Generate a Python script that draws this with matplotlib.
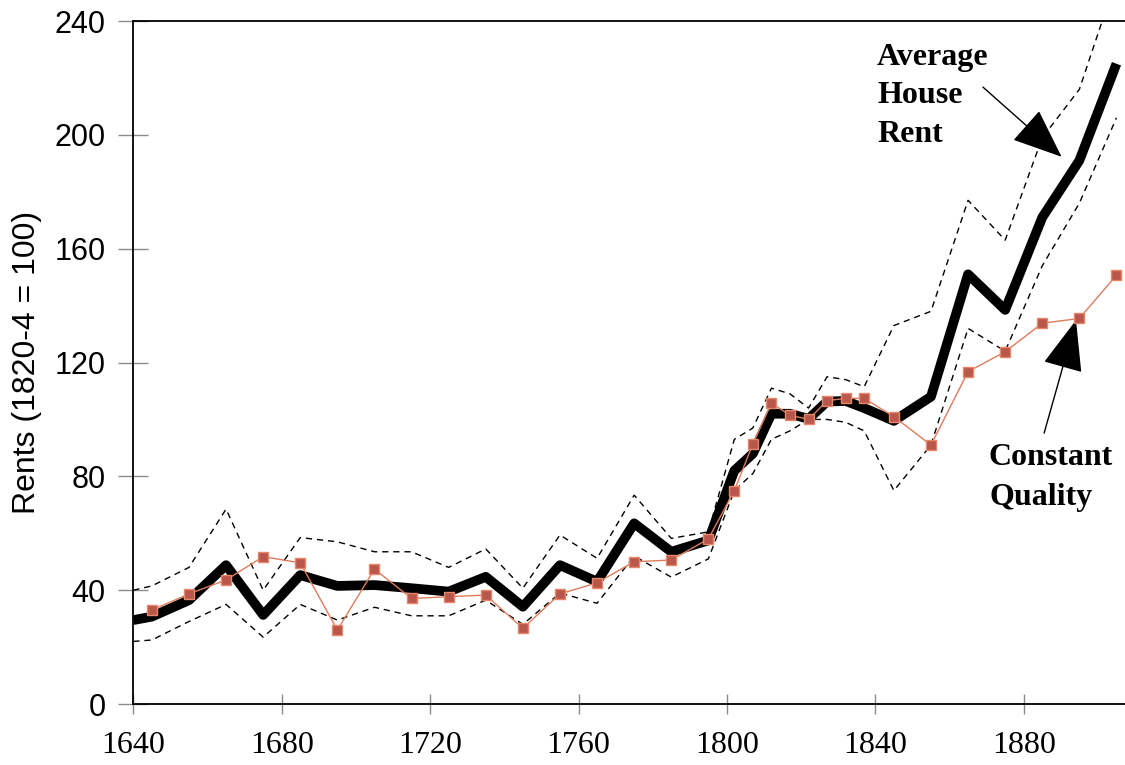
import matplotlib
matplotlib.use("Agg")
import matplotlib.pyplot as plt

# years for the average rent series and its bounds
years = [1640, 1645, 1655, 1665, 1675, 1685, 1695, 1705, 1715, 1725, 1735,
         1745, 1755, 1765, 1775, 1785, 1795, 1802, 1807, 1812, 1817, 1822,
         1827, 1832, 1837, 1845, 1855, 1865, 1875, 1885, 1895, 1905]
avg_rent = [29.5, 30.7, 36.5, 48.8, 31.3, 45.3, 41.5, 41.8, 40.7, 39.5, 44.7,
            34.2, 48.8, 43.0, 63.5, 53.5, 57.5, 82.0, 88.0, 102.0, 102.0, 100.2,
            106.3, 106.5, 104.0, 99.5, 108.0, 151.0, 138.5, 171.0, 191.0, 225.0]
upper = [40.0, 41.5, 48.0, 68.5, 40.0, 58.5, 57.0, 53.5, 53.5, 48.0, 54.5,
         40.7, 59.4, 51.2, 73.4, 58.2, 60.5, 93.0, 97.0, 111.0, 109.0, 104.0,
         115.0, 114.0, 111.5, 133.0, 138.0, 177.0, 163.0, 199.0, 216.0, 255.0]
lower = [22.0, 22.5, 29.0, 35.0, 23.5, 35.0, 29.5, 34.0, 31.0, 31.0, 36.5,
         28.0, 39.0, 35.4, 52.0, 44.6, 51.0, 75.0, 81.0, 93.0, 96.0, 100.0,
         100.0, 99.0, 96.0, 75.0, 91.0, 132.0, 124.0, 154.0, 176.0, 206.0]

# constant quality rent index
years_cq = [1645, 1655, 1665, 1675, 1685, 1695, 1705, 1715, 1725, 1735, 1745,
            1755, 1765, 1775, 1785, 1795, 1802, 1807, 1812, 1817, 1822, 1827,
            1832, 1837, 1845, 1855, 1865, 1875, 1885, 1895, 1905]
const_quality = [33.0, 38.7, 43.6, 51.8, 49.6, 26.0, 47.4, 37.1, 37.7, 38.3, 26.6,
                 38.7, 42.6, 50.0, 50.6, 58.0, 75.0, 91.4, 105.7, 101.5, 100.0, 106.6,
                 107.4, 107.4, 101.0, 91.0, 116.8, 123.8, 133.8, 135.5, 150.7]

xticks = [1640, 1680, 1720, 1760, 1800, 1840, 1880]
yticks = [0, 40, 80, 120, 160, 200, 240]

fig = plt.figure(figsize=(11.25, 7.65), dpi=100)
ax = fig.add_axes([0.1185, 0.0797, 0.8815, 0.8928])

dash = (0, (4.5, 3.5))
ax.plot(years, upper, color='black', lw=1.0, linestyle=dash, zorder=2)
ax.plot(years, lower, color='black', lw=1.0, linestyle=dash, zorder=2)
ax.plot(years, avg_rent, color='black', lw=7, solid_joinstyle='round',
        solid_capstyle='butt', zorder=3)
ax.plot(years_cq, const_quality, color='#E07B5A', lw=1.0, marker='s',
        markersize=6.5, markerfacecolor='#B9574C', markeredgecolor='#E8866A',
        markeredgewidth=1.0, zorder=4)

ax.set_xlim(1640, 1907.3)
ax.set_ylim(0, 240)
ax.set_xticks(xticks)
ax.set_yticks(yticks)
ax.set_xticklabels([str(t) for t in xticks], family='Liberation Serif', fontsize=23)
ax.set_yticklabels([str(t) for t in yticks], family='Liberation Sans', fontsize=22)
ax.tick_params(axis='y', direction='inout', length=21.6, width=1.0,
               color='#8c8c8c', pad=9)
ax.tick_params(axis='x', direction='inout', length=14.4, width=1.0,
               color='#8c8c8c', pad=12)

ax.spines['right'].set_visible(False)
for s in ('left', 'bottom', 'top'):
    ax.spines[s].set_linewidth(1.3)
    ax.spines[s].set_color('black')

ax.set_ylabel('Rents (1820-4 = 100)', family='Liberation Sans', fontsize=23)
ax.yaxis.set_label_coords(-0.092, 0.5)

# labels and arrows
lab = dict(family='Liberation Serif', fontsize=23, fontweight='bold',
           ha='left', va='baseline')
ax.text(1840.5, 224.5, 'Average', **lab)
ax.text(1840.5, 211.1, 'House', **lab)
ax.text(1840.5, 197.6, 'Rent', **lab)
ax.text(1870.5, 84.0, 'Constant', **lab)
ax.text(1870.8, 69.9, 'Quality', **lab)

ax.annotate('', xy=(1890.2, 192.3), xytext=(1869.0, 216.8),
            arrowprops=dict(arrowstyle='-|>,head_length=32,head_width=13',
                            mutation_scale=1, color='black', lw=1.0,
                            shrinkA=0, shrinkB=0))
ax.annotate('', xy=(1894.1, 134.9), xytext=(1885.5, 95.2),
            arrowprops=dict(arrowstyle='-|>,head_length=33,head_width=13',
                            mutation_scale=1, color='black', lw=1.0,
                            shrinkA=0, shrinkB=0))

fig.savefig('out.png', dpi=100)
